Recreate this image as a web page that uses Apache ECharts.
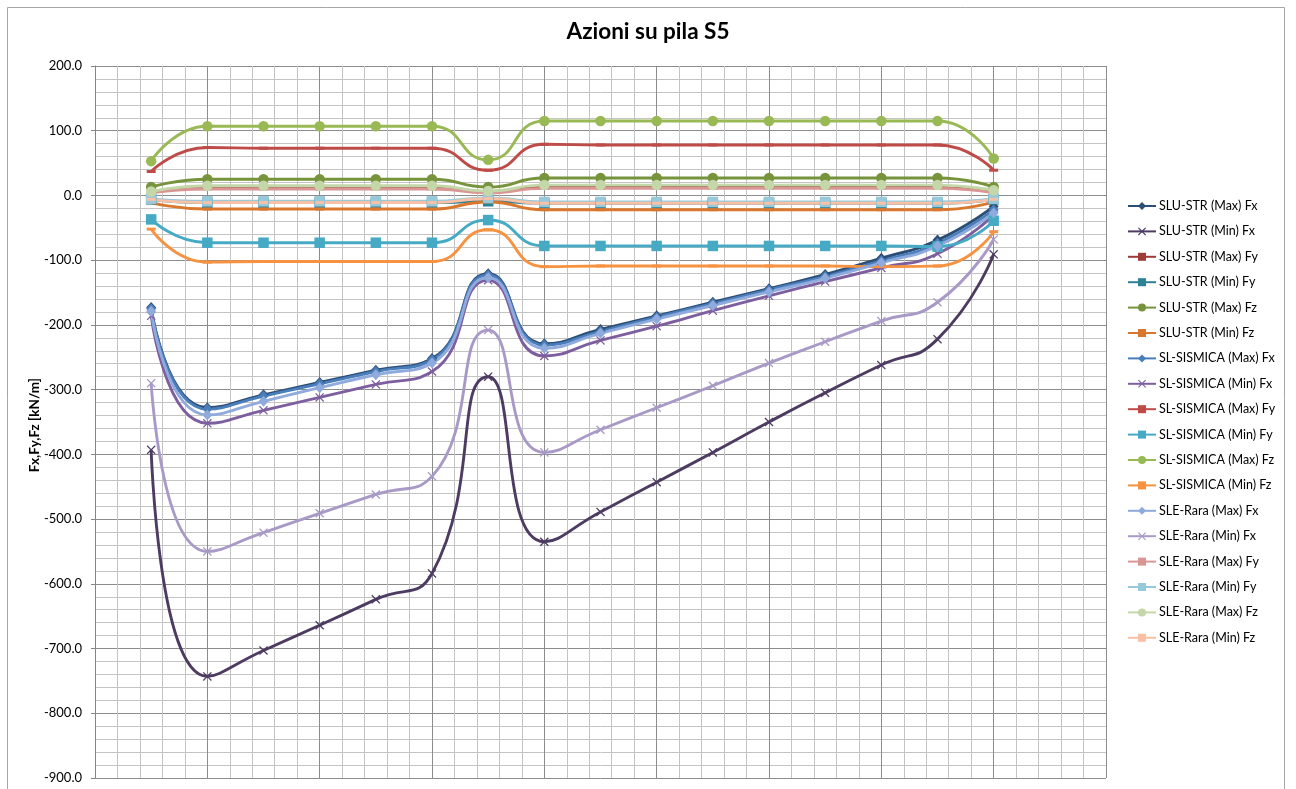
<!DOCTYPE html>
<html>
<head>
<meta charset="utf-8">
<title>Azioni su pila S5</title>
<script src="https://cdn.jsdelivr.net/npm/echarts@6/dist/echarts.min.js"></script>
<style>
  html, body { margin: 0; padding: 0; background: #ffffff; }
  #chart { width: 1296px; height: 789px; }
</style>
</head>
<body>
<div id="chart"></div>
<script>
// Progressive stations along the pier (abscissa of each computed section)
const stations = [5, 10, 15, 20, 25, 30, 35, 40, 45, 50, 55, 60, 65, 70, 75, 80];

// SLU-STR envelope [kN/m]
const sluMaxFx = [-173, -328, -308, -289, -270, -252, -121, -229, -207, -186, -165, -144, -122, -97, -69, -17];
const sluMinFx = [-393, -743, -703, -664, -624, -584, -280, -535, -489, -443, -397, -350, -305, -262, -222, -91];
const sluMaxFy = [6, 12, 12, 12, 12, 12, 6, 13, 13, 13, 13, 13, 13, 13, 13, 6];
const sluMinFy = [-6, -11, -11, -11, -11, -11, -9, -12, -12, -12, -12, -12, -12, -12, -12, -6];
const sluMaxFz = [13, 25, 25, 25, 25, 25, 13, 27, 27, 27, 27, 27, 27, 27, 27, 13];
const sluMinFz = [-11, -21, -21, -21, -21, -21, -10, -22, -22, -22, -22, -22, -22, -22, -22, -10];

// SL-SISMICA envelope [kN/m]
const sisMaxFx = [-175, -330, -310, -291, -272, -254, -123, -231, -210, -188, -167, -146, -125, -101, -74, -22];
const sisMinFx = [-186, -352, -332, -312, -292, -272, -131, -248, -224, -202, -178, -155, -133, -112, -90, -30];
const sisMaxFy = [37, 74, 73, 73, 73, 73, 39, 79, 78, 78, 78, 78, 78, 78, 78, 39];
const sisMinFy = [-37, -73, -73, -73, -73, -73, -38, -78, -78, -78, -78, -78, -78, -78, -79, -39];
const sisMaxFz = [53, 107, 107, 107, 107, 107, 55, 115, 115, 115, 115, 115, 115, 115, 115, 57];
const sisMinFz = [-52, -103, -102, -102, -102, -102, -53, -110, -109, -109, -109, -109, -109, -110, -109, -56];

// SLE-Rara envelope [kN/m]
const sleMaxFx = [-179, -339, -318, -297, -277, -259, -127, -236, -213, -191, -170, -149, -128, -104, -78, -27];
const sleMinFx = [-290, -550, -521, -491, -462, -434, -208, -397, -362, -328, -294, -259, -226, -194, -165, -68];
const sleMaxFy = [4, 10, 10, 10, 10, 10, 4, 11, 11, 11, 11, 11, 11, 11, 11, 4];
const sleMinFy = [-5, -9, -9, -9, -9, -9, -4, -10, -10, -10, -10, -10, -10, -10, -10, -5];
const sleMaxFz = [6, 15, 15, 15, 15, 15, 7, 16, 16, 16, 16, 16, 16, 16, 16, 8];
const sleMinFz = [-6, -11, -11, -11, -11, -11, -5, -12, -12, -12, -12, -12, -12, -12, -12, -6];

// Value axis ticks
const yTicks = { min: -900, max: 200, step: 100 };
const xTicks = { min: 0, max: 90, step: 10 };

// Marker shapes
const X_MARK = 'path://M0,1L1,0L5,4L9,0L10,1L6,5L10,9L9,10L5,6L1,10L0,9L4,5Z';
const MARKS = {
  diamond: { symbol: 'diamond', size: [10, 11] },
  cross:   { symbol: X_MARK, size: 9 },
  dash:    { symbol: 'rect', size: [9, 3] },
  square:  { symbol: 'rect', size: 10.5 },
  circle:  { symbol: 'circle', size: 10.5 }
};

const seriesDefs = [
  ['SLU-STR (Max) Fx',    sluMaxFx, '#2C4D75', 'diamond'],
  ['SLU-STR (Min) Fx',    sluMinFx, '#4D3B62', 'cross'],
  ['SLU-STR (Max) Fy',    sluMaxFy, '#9E3B39', 'dash'],
  ['SLU-STR (Min) Fy',    sluMinFy, '#2E8296', 'square'],
  ['SLU-STR (Max) Fz',    sluMaxFz, '#77933C', 'circle'],
  ['SLU-STR (Min) Fz',    sluMinFz, '#D9772F', 'dash'],
  ['SL-SISMICA (Max) Fx', sisMaxFx, '#4A7EBB', 'diamond'],
  ['SL-SISMICA (Min) Fx', sisMinFx, '#7D5FA0', 'cross'],
  ['SL-SISMICA (Max) Fy', sisMaxFy, '#BE4B48', 'dash'],
  ['SL-SISMICA (Min) Fy', sisMinFy, '#46AAC5', 'square'],
  ['SL-SISMICA (Max) Fz', sisMaxFz, '#98B954', 'circle'],
  ['SL-SISMICA (Min) Fz', sisMinFz, '#F69240', 'dash'],
  ['SLE-Rara (Max) Fx',   sleMaxFx, '#8FAADC', 'diamond'],
  ['SLE-Rara (Min) Fx',   sleMinFx, '#A899C6', 'cross'],
  ['SLE-Rara (Max) Fy',   sleMaxFy, '#D99694', 'dash'],
  ['SLE-Rara (Min) Fy',   sleMinFy, '#97C9DB', 'square'],
  ['SLE-Rara (Max) Fz',   sleMaxFz, '#C4D7A8', 'circle'],
  ['SLE-Rara (Min) Fz',   sleMinFz, '#F8C1A6', 'dash']
];

const FONT = 'Lato, "Open Sans", "Liberation Sans", sans-serif';

const series = seriesDefs.map(([name, values, color, mark]) => ({
  name: name,
  type: 'line',
  smooth: 0.55,
  data: stations.map((x, i) => [x, values[i]]),
  symbol: MARKS[mark].symbol,
  symbolSize: MARKS[mark].size,
  showAllSymbol: true,
  lineStyle: { color: color, width: 2.9 },
  itemStyle: { color: color, borderWidth: 0 },
  emphasis: { disabled: true },
  animation: false
}));

const chart = echarts.init(document.getElementById('chart'), null, { renderer: 'canvas' });

chart.setOption({
  backgroundColor: '#ffffff',
  animation: false,
  title: {
    text: 'Azioni su pila S5',
    left: 'center',
    top: 20,
    padding: 0,
    textStyle: { fontFamily: FONT, fontSize: 22.5, fontWeight: 'bold', color: '#000000' }
  },
  graphic: [{
    type: 'rect',
    shape: { x: 7.5, y: 7.5, width: 1277, height: 800 },
    style: { fill: 'none', stroke: '#a6a6a6', lineWidth: 1 },
    silent: true,
    z: -1
  }, {
    // axis title, placed beside the tick labels
    type: 'text',
    left: 28,
    top: 378,
    rotation: Math.PI / 2,
    style: {
      text: 'Fx,Fy,Fz [kN/m]',
      font: 'bold 13.5px ' + FONT,
      fill: '#000000'
    },
    silent: true
  }],
  legend: {
    orient: 'vertical',
    left: 1127,
    top: 199,
    padding: 0,
    itemWidth: 28,
    itemHeight: 10,
    itemGap: 11.4,
    data: seriesDefs.map(d => d[0]),
    textStyle: { fontFamily: FONT, fontSize: 12.5, color: '#000000', lineHeight: 14, padding: [0, 0, 0, -2] },
    selectedMode: false
  },
  grid: { left: 95, top: 66, width: 1011, height: 712, containLabel: false },
  xAxis: {
    type: 'value',
    min: xTicks.min,
    max: xTicks.max,
    interval: xTicks.step,
    axisLabel: { show: false },
    axisTick: { show: false },
    axisLine: { show: false },
    splitLine: { show: true, lineStyle: { color: '#8c8c8c', width: 1 } },
    minorTick: { show: false, splitNumber: 5 },
    minorSplitLine: { show: true, lineStyle: { color: '#c4c4c4', width: 1 } }
  },
  yAxis: {
    type: 'value',
    min: yTicks.min,
    max: yTicks.max,
    interval: yTicks.step,
    axisLabel: {
      fontFamily: FONT, fontSize: 13, color: '#000000', margin: 13,
      formatter: v => v.toFixed(1)
    },
    axisLine: { show: true, lineStyle: { color: '#868686', width: 1 } },
    axisTick: { show: true, length: 4, lineStyle: { color: '#868686' } },
    splitLine: { show: true, lineStyle: { color: '#8c8c8c', width: 1 } },
    minorTick: { show: false, splitNumber: 5 },
    minorSplitLine: { show: true, lineStyle: { color: '#c4c4c4', width: 1 } }
  },
  series: series
});
</script>
</body>
</html>
